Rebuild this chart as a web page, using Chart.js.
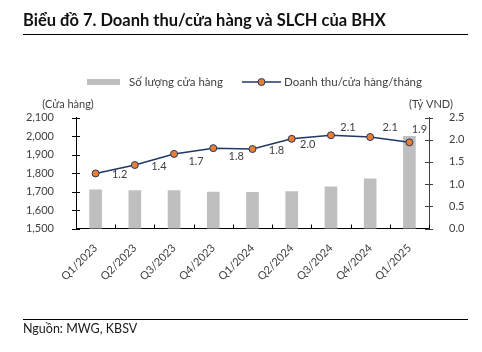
<!DOCTYPE html>
<html><head><meta charset="utf-8">
<script src="https://cdn.jsdelivr.net/npm/chart.js@4.4.1/dist/chart.umd.min.js"></script>
<style>html,body{margin:0;padding:0;background:#fff;}#wrap{width:482px;height:352px;position:relative;}</style>
</head><body>
<div id="wrap"><canvas id="c" width="482" height="352"></canvas></div>
<script>
const categories = ['Q1/2023','Q2/2023','Q3/2023','Q4/2023','Q1/2024','Q2/2024','Q3/2024','Q4/2024','Q1/2025'];
const storeCounts = [1709, 1705, 1705, 1697, 1695, 1700, 1725, 1768, 1998];
const revenuePerStore = [1.24, 1.43, 1.68, 1.81, 1.79, 2.02, 2.10, 2.06, 1.94];
const leftTicks = [1500, 1600, 1700, 1800, 1900, 2000, 2100];
const rightTicks = [0, 0.5, 1.0, 1.5, 2.0, 2.5];

const FONT = 'Lato, "Open Sans", sans-serif';
const TXT = '#404040';
// label offsets (style only)
const labelOffsets = [[24,1],[24,1],[22,8],[23,8],[24,1],[16,6],[17,-8],[20,-10],[10,-13]];

const decor = {
  id: 'decor',
  afterDraw(chart) {
    const ctx = chart.ctx;
    ctx.save();
    // title
    ctx.fillStyle = '#111';
    ctx.font = 'bold 16.5px ' + FONT;
    ctx.textBaseline = 'alphabetic';
    ctx.textAlign = 'left';
    ctx.fillText('Biểu đồ 7. Doanh thu/cửa hàng và SLCH của BHX', 23, 26);
    ctx.strokeStyle = '#000'; ctx.lineWidth = 1;
    ctx.beginPath(); ctx.moveTo(23, 34.5); ctx.lineTo(468, 34.5); ctx.stroke();
    ctx.beginPath(); ctx.moveTo(23, 319.5); ctx.lineTo(468, 319.5); ctx.stroke();
    ctx.font = '12.5px ' + FONT;
    ctx.fillStyle = '#1a1a1a';
    ctx.fillText('Nguồn: MWG, KBSV', 23, 333);
    // legend
    ctx.fillStyle = '#BFBFBF';
    ctx.fillRect(87, 79, 33, 6);
    ctx.fillStyle = TXT;
    ctx.font = '11.5px ' + FONT;
    ctx.textBaseline = 'middle';
    ctx.fillText('Số lượng cửa hàng', 129, 82);
    ctx.strokeStyle = '#1F3864'; ctx.lineWidth = 1.5;
    ctx.beginPath(); ctx.moveTo(242, 82); ctx.lineTo(281, 82); ctx.stroke();
    ctx.beginPath(); ctx.arc(261.5, 82, 3.5, 0, Math.PI*2);
    ctx.fillStyle = '#ED7D31'; ctx.fill(); ctx.lineWidth = 1; ctx.stroke();
    ctx.fillStyle = TXT;
    ctx.fillText('Doanh thu/cửa hàng/tháng', 284, 82);
    // axis titles
    ctx.font = '11px ' + FONT;
    ctx.textAlign = 'center';
    ctx.fillText('(Cửa hàng)', 68, 104);
    ctx.fillText('(Tỷ VND)', 431, 104);
    // axis tick marks
    const y = chart.scales.y, y1 = chart.scales.y1, x = chart.scales.x;
    const ca = chart.chartArea;
    ctx.strokeStyle = '#000'; ctx.lineWidth = 1;
    leftTicks.forEach(v => {
      const py = Math.round(y.getPixelForValue(v)) + 0.5;
      ctx.beginPath(); ctx.moveTo(ca.left - 4, py); ctx.lineTo(ca.left + 4, py); ctx.stroke();
    });
    ctx.strokeStyle = '#404040';
    rightTicks.forEach(v => {
      const py = Math.round(y1.getPixelForValue(v)) + 0.5;
      ctx.beginPath(); ctx.moveTo(ca.right - 4, py); ctx.lineTo(ca.right + 4, py); ctx.stroke();
    });
    ctx.strokeStyle = '#000';
    for (let i = 0; i < categories.length; i++) {
      let px;
      if (i < categories.length - 1) px = (x.getPixelForValue(i) + x.getPixelForValue(i + 1)) / 2;
      else px = ca.right;
      px = Math.round(px) + 0.5;
      ctx.beginPath(); ctx.moveTo(px, ca.bottom); ctx.lineTo(px, ca.bottom - 4); ctx.stroke();
    }
    // data labels
    const meta = chart.getDatasetMeta(1);
    ctx.font = '11px ' + FONT;
    ctx.fillStyle = TXT;
    ctx.textAlign = 'center';
    ctx.textBaseline = 'middle';
    meta.data.forEach((pt, i) => {
      const o = labelOffsets[i];
      ctx.fillText(revenuePerStore[i].toFixed(1), pt.x + o[0], pt.y + o[1]);
    });
    ctx.restore();
  }
};

new Chart(document.getElementById('c'), {
  data: {
    labels: categories,
    datasets: [
      { type: 'bar', label: 'Số lượng cửa hàng', data: storeCounts, yAxisID: 'y',
        backgroundColor: '#BFBFBF', barThickness: 12, order: 2 },
      { type: 'line', label: 'Doanh thu/cửa hàng/tháng', data: revenuePerStore, yAxisID: 'y1',
        borderColor: '#1F3864', borderWidth: 1.5, pointBackgroundColor: '#ED7D31',
        pointBorderColor: '#1F3864', pointBorderWidth: 1, pointRadius: 3.5, tension: 0, order: 1 }
    ]
  },
  options: {
    responsive: false, animation: false, devicePixelRatio: 1,
    layout: { padding: { top: 117.5, left: 0, right: 0, bottom: 0 } },
    plugins: { legend: { display: false }, tooltip: { enabled: false } },
    scales: {
      x: { type: 'category', offset: true,
        grid: { display: false }, border: { color: '#000', width: 1 },
        ticks: { minRotation: 45, maxRotation: 45, padding: 5, color: TXT, font: { family: FONT, size: 11 } },
        afterFit: s => { s.height = 352 - 228.5; } },
      y: { position: 'left', min: 1500, max: 2100,
        grid: { display: false }, border: { color: '#000', width: 1 },
        afterBuildTicks: s => { s.ticks = leftTicks.map(v => ({ value: v })); },
        ticks: { padding: 14, color: TXT, font: { family: FONT, size: 11 },
          callback: v => v.toLocaleString('en-US') },
        afterFit: s => { s.width = 76; } },
      y1: { position: 'right', min: 0, max: 2.5,
        grid: { display: false }, border: { color: '#404040', width: 1 },
        afterBuildTicks: s => { s.ticks = rightTicks.map(v => ({ value: v })); },
        ticks: { padding: 12, color: TXT, font: { family: FONT, size: 11 },
          callback: v => Number(v).toFixed(1) },
        afterFit: s => { s.width = 482 - 429; } }
    }
  },
  plugins: [decor]
});
</script>
</body></html>
